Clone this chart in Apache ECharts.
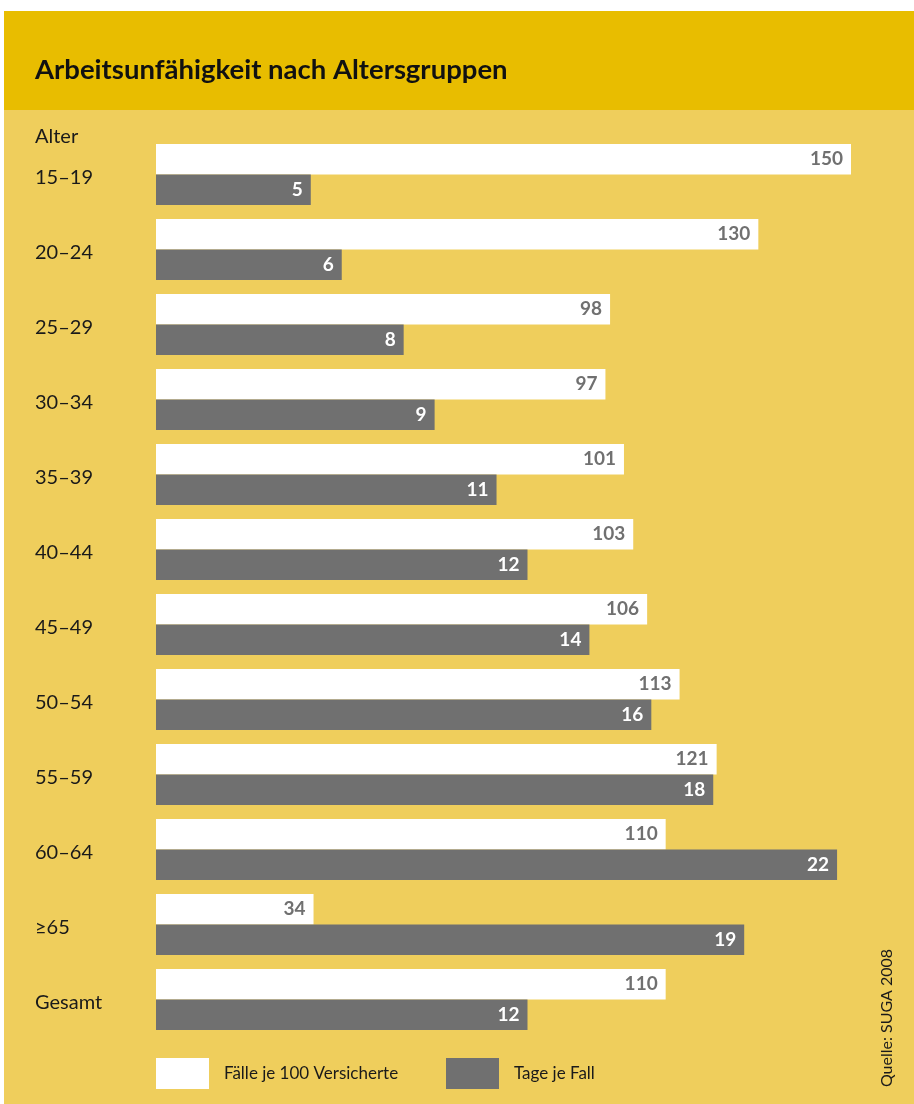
<!DOCTYPE html>
<html>
<head>
<meta charset="utf-8">
<script src="https://cdn.jsdelivr.net/npm/echarts@6/dist/echarts.min.js"></script>
<style>
html,body{margin:0;padding:0;background:#ffffff;}
#chart{width:914px;height:1104px;}
</style>
</head>
<body>
<div id="chart"></div>
<script>
const title = 'Arbeitsunfähigkeit nach Altersgruppen';
const axisTitle = 'Alter';
const categories = ['15–19','20–24','25–29','30–34','35–39','40–44','45–49','50–54','55–59','60–64','≥65','Gesamt'];
const faelle = [150,130,98,97,101,103,106,113,121,110,34,110];
const tage = [5,6,8,9,11,12,14,16,18,22,19,12];
const seriesNames = ['Fälle je 100 Versicherte','Tage je Fall'];
const source = 'Quelle: SUGA 2008';

const FONT = 'Lato, "Open Sans", sans-serif';
const chart = echarts.init(document.getElementById('chart'), null, {renderer:'canvas'});
chart.setOption({
  backgroundColor: '#EFCE5C',
  animation: false,
  graphic: [
    {type:'rect', shape:{x:0,y:0,width:914,height:11}, style:{fill:'#ffffff'}, silent:true},
    {type:'rect', shape:{x:0,y:0,width:4,height:1104}, style:{fill:'#ffffff'}, silent:true},
    {type:'rect', shape:{x:4,y:11,width:910,height:99}, style:{fill:'#E8BD00'}, silent:true},
    {type:'text', x:35, y:70, style:{text:title, fontFamily:FONT, fontWeight:'bold', fontSize:27.5, fill:'#111111', verticalAlign:'middle'}},
    {type:'text', x:35, y:137, style:{text:axisTitle, fontFamily:FONT, fontSize:20, fill:'#1a1a1a', verticalAlign:'middle'}},
    {type:'text', x:887, y:1018, rotation:Math.PI/2, style:{text:source, fontFamily:FONT, fontSize:16, fill:'#1a1a1a', align:'center', verticalAlign:'middle'}}
  ],
  grid: {left:156, top:137, width:695, height:900, containLabel:false},
  xAxis: [
    {type:'value', min:0, max:150, show:false},
    {type:'value', min:0, max:22.45, show:false}
  ],
  yAxis: {
    type:'category', data:categories, inverse:true,
    axisLine:{show:false}, axisTick:{show:false}, splitLine:{show:false},
    axisLabel:{align:'left', margin:121, formatter:'{c|{value}}',
      rich:{c:{fontFamily:FONT, fontSize:20, color:'#1a1a1a', padding:[7,0,0,0]}}}
  },
  legend: [
    {data:[seriesNames[0]], left:156, top:1058, padding:0, itemWidth:53, itemHeight:31, icon:'rect',
     textStyle:{fontFamily:FONT, fontSize:17, color:'#1a1a1a', padding:[16,0,0,10]}},
    {data:[seriesNames[1]], left:446, top:1058, padding:0, itemWidth:53, itemHeight:31, icon:'rect',
     textStyle:{fontFamily:FONT, fontSize:17, color:'#1a1a1a', padding:[16,0,0,10]}}
  ],
  series: [
    {name:seriesNames[0], type:'bar', xAxisIndex:0, data:faelle, barWidth:30.5, barGap:'0%',
     itemStyle:{color:'#ffffff'},
     label:{show:true, position:'insideRight', distance:8, fontFamily:FONT, fontWeight:'bold', fontSize:19, color:'#707070'}},
    {name:seriesNames[1], type:'bar', xAxisIndex:1, data:tage, barWidth:30.5, barGap:'0%',
     itemStyle:{color:'#707070'},
     label:{show:true, position:'insideRight', distance:8, fontFamily:FONT, fontWeight:'bold', fontSize:19, color:'#ffffff'}}
  ]
});
</script>
</body>
</html>
